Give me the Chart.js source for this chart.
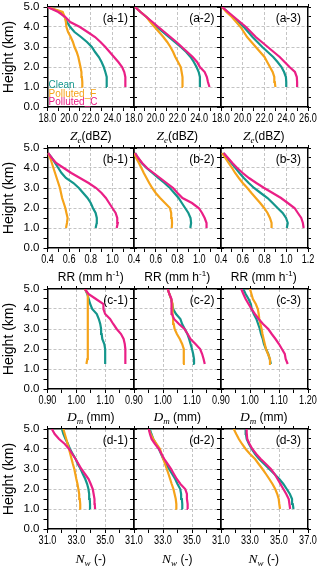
<!DOCTYPE html>
<html><head><meta charset="utf-8">
<script src="https://cdn.jsdelivr.net/npm/chart.js@4.4.1/dist/chart.umd.min.js"></script>
<style>
html,body{margin:0;padding:0;background:#fff;}
body{width:320px;height:569px;position:relative;overflow:hidden;font-family:"Liberation Sans",Arial,sans-serif;}
canvas{position:absolute;}
.t{position:absolute;white-space:nowrap;color:#000;}
.xt{font-size:12px;transform:translate(-50%,-50%);}
.pl{font-size:12px;transform:translate(-100%,-50%);}
.lg{font-size:10px;transform:translate(0,-50%);}
.m{font-family:"Liberation Serif","Times New Roman",serif;font-style:italic;font-size:13.5px;}
.sb{font-family:"Liberation Serif",serif;font-style:italic;font-size:9px;position:relative;top:3px;}
.sp{font-size:8px;position:relative;top:-5px;}
</style></head><body>
<script>
// ---------- DATA ----------
const heights = [1.0,1.25,1.5,1.75,2.0,2.25,2.5,2.75,3.0,3.25,3.5,3.75,4.0,4.25,4.5,4.75,5.0];
const seriesNames = ['Clean','Polluted_F','Polluted_C'];

// Row a: Ze (dBZ)
const zeClean1 = [23.5,23.5,23.45,23.35,23.2,23.0,22.75,22.4,22.1,21.65,21.1,20.5,20.1,19.8,19.6,19.2,18.0];
const zeF1     = [21.26,21.22,21.18,21.14,21.05,20.95,20.85,20.7,20.5,20.35,20.15,19.9,19.75,19.7,19.6,19.4,18.0];
const zeC1     = [25.2,25.2,25.2,25.1,24.9,24.55,24.15,23.75,23.35,22.9,22.4,21.7,21.0,20.1,19.65,19.0,18.0];
const zeClean2 = [24.06,24.06,24.06,23.95,23.75,23.5,23.2,22.8,22.3,21.75,21.2,20.65,20.1,19.6,19.15,18.6,18.1];
const zeF2     = [22.5,22.48,22.44,22.38,22.3,22.05,21.8,21.6,21.35,21.05,20.7,20.3,19.9,19.5,19.15,18.6,18.1];
const zeC2     = [24.94,24.8,24.7,24.5,24.06,23.8,23.4,22.9,22.4,21.9,21.35,20.8,20.25,19.7,19.15,18.6,18.1];
const zeClean3 = [24.0,24.0,23.97,23.8,23.56,23.2,22.8,22.3,21.8,21.35,20.9,20.5,20.1,19.6,19.1,18.6,18.1];
const zeF3     = [23.0,22.95,22.9,22.75,22.5,22.25,22.0,21.6,21.2,20.8,20.4,20.1,19.8,19.4,19.0,18.5,18.1];
const zeC3     = [25.0,25.0,24.97,24.8,24.3,23.85,23.4,22.85,22.3,21.75,21.2,20.75,20.3,19.75,19.2,18.65,18.1];

// Row b: RR (mm h-1)
const rrClean1 = [0.845,0.855,0.856,0.845,0.82,0.80,0.77,0.73,0.69,0.64,0.57,0.53,0.50,0.47,0.44,0.405,null];
const rrF1     = [0.571,0.58,0.586,0.575,0.565,0.55,0.535,0.525,0.515,0.50,0.485,0.47,0.455,0.44,0.425,0.405,null];
const rrC1     = [1.04,1.05,1.045,1.03,1.0,0.97,0.94,0.90,0.85,0.78,0.70,0.62,0.55,0.48,0.44,0.405,null];
const rrClean2 = [0.918,0.925,0.92,0.90,0.87,0.84,0.81,0.77,0.73,0.68,0.623,0.57,0.515,0.47,0.437,0.41,null];
const rrF2     = [0.747,0.75,0.747,0.742,0.73,0.685,0.64,0.60,0.567,0.54,0.515,0.49,0.468,0.445,0.42,0.405,null];
const rrC2     = [1.067,1.067,1.05,1.026,0.995,0.933,0.846,0.80,0.76,0.70,0.64,0.58,0.52,0.475,0.44,0.41,null];
const rrClean3 = [1.005,1.014,0.998,0.967,0.92,0.875,0.828,0.765,0.704,0.655,0.61,0.57,0.533,0.495,0.456,0.42,null];
const rrF3     = [0.865,0.865,0.85,0.828,0.797,0.76,0.72,0.68,0.642,0.60,0.564,0.53,0.502,0.47,0.44,0.41,null];
const rrC3     = [1.16,1.153,1.138,1.107,1.076,1.014,0.952,0.875,0.797,0.725,0.657,0.60,0.549,0.505,0.465,0.425,null];

// Row c: Dm (mm)
const dmClean1 = [null,1.10,1.10,1.10,1.10,1.097,1.09,1.088,1.086,1.083,1.078,1.071,1.055,1.048,1.043,1.038,1.03];
const dmF1     = [null,1.035,1.038,1.039,1.04,1.04,1.04,1.04,1.04,1.04,1.04,1.04,1.04,1.04,1.04,1.038,1.03];
const dmC1     = [null,1.17,1.17,1.17,1.17,1.168,1.164,1.155,1.14,1.128,1.117,1.10,1.094,1.094,1.068,1.042,1.03];
const dmClean2 = [null,1.109,1.107,1.104,1.10,1.095,1.09,1.084,1.075,1.066,1.06,1.045,1.035,1.032,1.028,1.022,1.016];
const dmF2     = [null,1.069,1.071,1.072,1.072,1.066,1.058,1.048,1.04,1.037,1.035,1.033,1.034,1.032,1.028,1.022,1.016];
const dmC2     = [null,1.144,1.14,1.135,1.128,1.112,1.095,1.085,1.074,1.055,1.038,1.031,1.03,1.03,1.028,1.022,1.016];
const dmClean3 = [null,1.072,1.068,1.063,1.055,1.048,1.044,1.038,1.034,1.028,1.022,1.013,1.006,1.003,0.995,0.985,0.977];
const dmF3     = [null,1.072,1.069,1.062,1.055,1.051,1.047,1.043,1.04,1.036,1.032,1.03,1.027,1.02,1.01,1.005,1.0];
const dmC3     = [null,1.13,1.123,1.12,1.11,1.10,1.088,1.075,1.063,1.045,1.03,1.017,1.005,0.995,0.985,0.977,0.97];

// Row d: Nw (-)
const nwClean1 = [33.96,33.95,33.93,33.89,33.84,33.75,33.62,33.45,33.3,33.1,32.95,32.75,32.56,32.42,32.25,32.1,32.0];
const nwF1     = [33.3,33.27,33.24,33.2,33.14,33.08,33.0,32.93,32.86,32.76,32.67,32.58,32.49,32.4,32.3,32.2,32.1];
const nwC1     = [34.3,34.28,34.26,34.2,34.14,34.0,33.85,33.6,33.35,33.15,32.95,32.72,32.5,32.2,31.8,31.5,31.3];
const nwClean2 = [34.35,34.33,34.3,34.25,34.19,34.0,33.84,33.63,33.42,33.22,33.02,32.87,32.72,32.52,32.33,32.2,32.09];
const nwF2     = [33.95,33.92,33.88,33.8,33.72,33.6,33.49,33.38,33.26,33.14,33.02,32.9,32.79,32.56,32.33,32.15,32.02];
const nwC2     = [34.72,34.7,34.65,34.65,34.53,34.2,33.95,33.75,33.56,33.32,33.09,32.9,32.72,32.45,32.21,32.1,32.02];
const nwClean3 = [36.0,35.95,35.9,35.75,35.53,35.3,35.02,34.68,34.33,33.98,33.63,33.35,33.12,32.93,32.77,32.72,32.7];
const nwF3     = [35.07,35.02,34.98,34.88,34.74,34.55,34.33,34.1,33.86,33.6,33.35,33.0,32.7,32.45,32.23,32.05,31.88];
const nwC3     = [35.77,35.72,35.67,35.5,35.3,35.1,34.9,34.7,34.44,34.1,33.74,33.43,33.16,32.97,32.81,32.78,32.77];

// Tick values / labels
const heightTicks  = [0,1,2,3,4,5];
const heightLabels = ['0.0','1.0','2.0','3.0','4.0','5.0'];
const zeTicks  = [18,20,22,24,26];      const zeLabels = ['18.0','20.0','22.0','24.0','26.0'];
const rrTicks  = [0.4,0.6,0.8,1.0,1.2]; const rrLabels = ['0.4','0.6','0.8','1.0','1.2'];
const dmTicks  = [0.9,1.0,1.1,1.2];     const dmLabels = ['0.90','1.00','1.10','1.20'];
const nwTicks  = [31,33,35,37];         const nwLabels = ['31.0','33.0','35.0','37.0'];
const panelTags = [['(a-1)','(a-2)','(a-3)'],['(b-1)','(b-2)','(b-3)'],['(c-1)','(c-2)','(c-3)'],['(d-1)','(d-2)','(d-3)']];

// ---------- STYLE / LAYOUT ----------
const COLORS = ['#14968c','#f5a31a','#ea1f86'];
const colLeft = [47.5,134,220.5], plotW = 86.5;
const rowTop = [7,147.5,289,429], plotH = 100;
const padR = 14, padT = 6, padB = 30;
const yTickFont = {family:'"Liberation Sans",Arial,sans-serif', size:11.5};
const xTickFontSize = 12, xLabelSqueeze = 0.76;

const rows = [
  {ticks:zeTicks, labels:zeLabels, minor:1,    series:[[zeClean1,zeF1,zeC1],[zeClean2,zeF2,zeC2],[zeClean3,zeF3,zeC3]],
   title:'<span class="m">Z</span><span class="sb">e</span>(dBZ)', titleY:136},
  {ticks:rrTicks, labels:rrLabels, minor:0.1,  series:[[rrClean1,rrF1,rrC1],[rrClean2,rrF2,rrC2],[rrClean3,rrF3,rrC3]],
   title:'RR (mm h<span class="sp">-1</span>)', titleY:277},
  {ticks:dmTicks, labels:dmLabels, minor:0.05, series:[[dmClean1,dmF1,dmC1],[dmClean2,dmF2,dmC2],[dmClean3,dmF3,dmC3]],
   title:'<span class="m">D</span><span class="sb">m</span> (mm)', titleY:417},
  {ticks:nwTicks, labels:nwLabels, minor:1,    series:[[nwClean1,nwF1,nwC1],[nwClean2,nwF2,nwC2],[nwClean3,nwF3,nwC3]],
   title:'<span class="m">N</span><span class="sb">w</span> (-)', titleY:559}
];

function findIdx(arr, v){ for(let i=0;i<arr.length;i++){ if(Math.abs(arr[i]-v)<1e-6) return i; } return -1; }
function edgeOK(arr, v){ return Math.abs(v-arr[0])>1e-6 && Math.abs(v-arr[arr.length-1])>1e-6; }
const gridColor = '#c4c4c4';

function addText(html, cls, x, y, color){
  const d = document.createElement('div');
  d.className = 't ' + cls; d.innerHTML = html;
  d.style.left = x+'px'; d.style.top = y+'px';
  if(color) d.style.color = color;
  document.body.appendChild(d);
}

// draws the x tick labels, narrowed, at the positions given by the chart's own x scale
const xLabelPlugin = {
  id:'xLabels',
  afterDraw(chart, args, opts){
    const xs = chart.scales.x, ctx = chart.ctx;
    ctx.save();
    ctx.font = xTickFontSize + 'px "Liberation Sans",Arial,sans-serif';
    ctx.fillStyle = '#000'; ctx.textAlign = 'center'; ctx.textBaseline = 'middle';
    opts.ticks.forEach((v,k)=>{
      if(!opts.showLast && k===opts.ticks.length-1) return;
      const px = xs.getPixelForValue(v);
      ctx.save(); ctx.translate(px, xs.top + 11.5); ctx.scale(xLabelSqueeze,1);
      ctx.fillText(opts.labels[k], 0, 0); ctx.restore();
    });
    ctx.restore();
  }
};

function makePanel(r, c){
  const row = rows[r];
  const padL = c===0 ? 47.5 : 14;
  const W = plotW + padL + padR, H = plotH + padT + padB;
  const cv = document.createElement('canvas');
  cv.width = Math.round(W); cv.height = Math.round(H);
  cv.style.left = (colLeft[c]-padL)+'px'; cv.style.top = (rowTop[r]-padT)+'px';
  cv.style.width = Math.round(W)+'px'; cv.style.height = Math.round(H)+'px';
  document.body.appendChild(cv);
  const xt = row.ticks;
  const xmin = xt[0], xmax = xt[xt.length-1];
  const ds = row.series[c].map((arr,k)=>({
    label: seriesNames[k],
    data: heights.map((h,i)=>({x:arr[i], y:h})).filter(p=>p.x!==null),
    borderColor: COLORS[k], backgroundColor: COLORS[k],
    borderWidth: 2.2, pointRadius: 0, showLine: true, fill:false, tension:0,
    order: 3-k
  }));
  new Chart(cv, {
    type:'scatter',
    data:{datasets:ds},
    plugins:[xLabelPlugin],
    options:{
      responsive:false, animation:false, devicePixelRatio:1,
      layout:{padding:0},
      plugins:{legend:{display:false}, tooltip:{enabled:false},
               xLabels:{ticks:row.ticks, labels:row.labels, showLast:(c===2)}},
      scales:{
        x:{type:'linear', position:'bottom', min:xmin, max:xmax,
           ticks:{stepSize:row.minor, autoSkip:false, maxRotation:0, minRotation:0, callback:()=>''},
           grid:{color:(ctx)=> (ctx.tick && findIdx(xt,ctx.tick.value)>=0 && edgeOK(xt,ctx.tick.value)) ? gridColor : 'rgba(0,0,0,0)',
                 tickColor:'#000', tickLength:4, lineWidth:1, tickWidth:1},
           border:{color:'#000', width:1.5, dash:[3,2]},
           afterFit:(s)=>{ s.height = padB; s.paddingLeft = 0; s.paddingRight = 0; }},
        x2:{type:'linear', position:'top', min:xmin, max:xmax,
           ticks:{stepSize:row.minor, autoSkip:false, maxRotation:0, callback:()=>''},
           grid:{drawOnChartArea:false, tickColor:'#000', tickLength:3, tickWidth:1},
           border:{color:'#000', width:1.5},
           afterFit:(s)=>{ s.height = padT; s.paddingLeft = 0; s.paddingRight = 0; }},
        y:{type:'linear', position:'left', min:0, max:5,
           ticks:{stepSize:0.5, autoSkip:false, padding:4, color:'#000', font:yTickFont,
             callback:(v)=>{ if(c!==0) return ''; const k=findIdx(heightTicks,v); return k<0?'':heightLabels[k]; }},
           grid:{color:(ctx)=> (ctx.tick && findIdx(heightTicks,ctx.tick.value)>=0 && edgeOK(heightTicks,ctx.tick.value)) ? gridColor : 'rgba(0,0,0,0)',
                 tickColor:'#000', tickLength:4, lineWidth:1, tickWidth:1},
           border:{color:'#000', width:1.5, dash:[3,2]},
           title:{display:c===0, text:'Height (km)', color:'#000', padding:{top:1,bottom:0},
                  font:{family:'"Liberation Sans",Arial,sans-serif', size:14}},
           afterFit:(s)=>{ s.width = padL; s.paddingTop = 0; s.paddingBottom = 0; }},
        y2:{type:'linear', position:'right', min:0, max:5,
           ticks:{stepSize:0.5, autoSkip:false, callback:()=>''},
           grid:{drawOnChartArea:false, tickColor:'#000', tickLength:3, tickWidth:1},
           border:{color:'#000', width:1.5},
           afterFit:(s)=>{ s.width = padR; s.paddingTop = 0; s.paddingBottom = 0; }}
      }
    }
  });
  addText(panelTags[r][c], 'pl', colLeft[c]+plotW-6, rowTop[r]+11.3);
  addText(row.title, 'xt', colLeft[c]+plotW/2, row.titleY);
}

for(let r=0;r<4;r++) for(let c=0;c<3;c++) makePanel(r,c);

// legend (inside panel a-1)
const legendY = [84.3, 92.6, 101];
seriesNames.forEach((n,k)=> addText(n, 'lg', 48.5, legendY[k], COLORS[k]));
</script>
</body></html>
